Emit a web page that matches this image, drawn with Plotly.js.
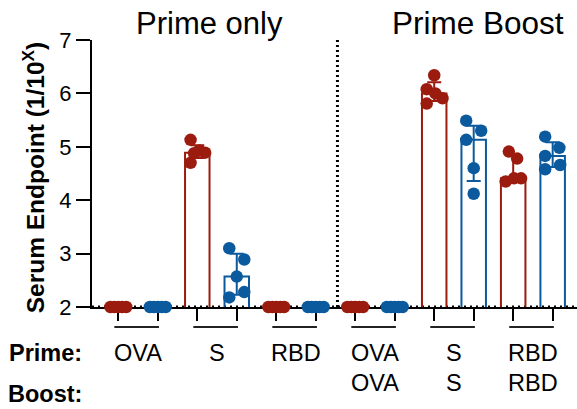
<!DOCTYPE html>
<html>
<head>
<meta charset="utf-8">
<script src="https://cdn.plot.ly/plotly-3.0.1.min.js"></script>
<style>html,body{margin:0;padding:0;background:#fff;}#chart{width:577px;height:409px;}</style>
</head>
<body>
<div id="chart"></div>
<script>
// ---- data ----
const primeLabels = ['OVA', 'S', 'RBD', 'OVA', 'S', 'RBD'];
const boostLabels = ['', '', '', 'OVA', 'S', 'RBD'];
const panelTitles = ['Prime only', 'Prime Boost'];
const yTicks = [2, 3, 4, 5, 6, 7];

// log10 endpoint titers, 5 animals per group (red series)
const redPoints = [
  [2, 2, 2, 2, 2],
  [5.13, 4.70, 4.93, 4.89, 4.88],
  [2, 2, 2, 2, 2],
  [2, 2, 2, 2, 2],
  [6.34, 6.08, 6.00, 5.91, 5.81],
  [4.91, 4.78, 4.35, 4.41, 4.41]
];
// (blue series)
const bluePoints = [
  [2, 2, 2, 2, 2],
  [3.10, 2.89, 2.57, 2.18, 2.28],
  [2, 2, 2, 2, 2],
  [2, 2, 2, 2, 2],
  [5.49, 5.30, 5.13, 4.60, 4.12],
  [5.19, 4.98, 4.83, 4.58, 4.66]
];

// ---- style ----
const RED = '#9B1B0F';
const BLUE = '#0B5A9E';
const FONT = 'Liberation Sans, Arial, Helvetica, sans-serif';
const flat = [-0.2, -0.1, 0, 0.1, 0.2];
const jitterRed = [flat, [-0.17, -0.17, 0.05, 0.2, -0.08], flat, flat,
  [0, -0.19, 0.03, 0.21, -0.19], [-0.11, 0.10, -0.19, 0.02, 0.2]];
const jitterBlue = [flat, [-0.19, 0.19, 0, -0.19, 0.19], flat, flat,
  [-0.19, 0.19, -0.19, 0, 0], [-0.19, 0.17, -0.19, -0.19, 0.19]];

function quantile(arr, p) {
  const s = arr.slice().sort((a, b) => a - b);
  const n = s.length;
  let h = (n + 1) * p;
  if (h <= 1) return s[0];
  if (h >= n) return s[n - 1];
  const lo = Math.floor(h);
  return s[lo - 1] + (h - lo) * (s[lo] - s[lo - 1]);
}

const traces = [];
function addSeries(points, jit, color, offset) {
  const xs = points.map((_, g) => 2 * g + offset);
  const med = points.map(p => quantile(p, 0.5));
  const q1 = points.map(p => quantile(p, 0.25));
  const q3 = points.map(p => quantile(p, 0.75));
  traces.push({
    type: 'bar', x: xs, y: med, width: 0.62,
    marker: {color: 'rgba(0,0,0,0)', line: {color: color, width: 2}},
    error_y: {type: 'data', symmetric: false,
      array: q3.map((v, i) => v - med[i]), arrayminus: med.map((v, i) => v - q1[i]),
      color: color, thickness: 2, width: 7},
    hoverinfo: 'skip', showlegend: false
  });
  const px = [], py = [];
  points.forEach((p, g) => p.forEach((v, k) => { px.push(xs[g] + jit[g][k]); py.push(v); }));
  traces.push({
    type: 'scatter', mode: 'markers', x: px, y: py, cliponaxis: false,
    marker: {color: color, size: 12.5, line: {width: 0}},
    hoverinfo: 'skip', showlegend: false
  });
}
addSeries(redPoints, jitterRed, RED, 0);
addSeries(bluePoints, jitterBlue, BLUE, 1);

const shapes = [
  {type: 'line', xref: 'paper', yref: 'y', x0: 0, x1: 1, y0: 2, y1: 2,
   line: {color: '#000', width: 3, dash: '2px,4px'}, layer: 'below'},
  {type: 'line', xref: 'x', yref: 'paper', x0: 5.55, x1: 5.55, y0: 0, y1: 1.01,
   line: {color: '#000', width: 3, dash: '2px,3px'}, layer: 'below'}
];
primeLabels.forEach((_, g) => {
  shapes.push({type: 'line', xref: 'x', yref: 'paper', x0: 2 * g - 0.1, x1: 2 * g + 1.03,
    y0: -0.075, y1: -0.075, line: {color: '#222', width: 2}});
});

const annotations = [
  {text: panelTitles[0], xref: 'paper', yref: 'paper', x: 0.243, y: 1.063,
   xanchor: 'center', yanchor: 'middle', showarrow: false, font: {family: FONT, size: 31, color: '#000'}},
  {text: panelTitles[1], xref: 'paper', yref: 'paper', x: 0.795, y: 1.063,
   xanchor: 'center', yanchor: 'middle', showarrow: false, font: {family: FONT, size: 31.5, color: '#000'}},
  {text: '<b>Serum Endpoint (1/10<sup>X</sup>)</b>', xref: 'paper', yref: 'paper', x: -0.1216, y: 0.482,
   xanchor: 'center', yanchor: 'middle', textangle: -90, showarrow: false,
   font: {family: FONT, size: 24.5, color: '#000'}},
  {text: '<b>Prime:</b>', xref: 'paper', yref: 'paper', x: -0.096, y: -0.173,
   xanchor: 'center', yanchor: 'middle', showarrow: false, font: {family: FONT, size: 23.5, color: '#000'}},
  {text: '<b>Boost:</b>', xref: 'paper', yref: 'paper', x: -0.096, y: -0.327,
   xanchor: 'center', yanchor: 'middle', showarrow: false, font: {family: FONT, size: 23.5, color: '#000'}}
];
primeLabels.forEach((lab, g) => {
  annotations.push({text: lab, xref: 'x', yref: 'paper', x: 2 * g + 0.5, y: -0.173,
    xanchor: 'center', yanchor: 'middle', showarrow: false, font: {family: FONT, size: 23.5, color: '#000'}});
  if (boostLabels[g]) {
    annotations.push({text: boostLabels[g], xref: 'x', yref: 'paper', x: 2 * g + 0.5, y: -0.283,
      xanchor: 'center', yanchor: 'middle', showarrow: false, font: {family: FONT, size: 23.5, color: '#000'}});
  }
});

const layout = {
  width: 577, height: 409,
  margin: {l: 92, r: 0, t: 40, b: 102, pad: 0},
  paper_bgcolor: '#fff', plot_bgcolor: '#fff',
  font: {family: FONT, color: '#000'},
  showlegend: false,
  barmode: 'overlay',
  xaxis: {
    range: [-0.666, 11.616], tickvals: primeLabels.flatMap((_, g) => [2 * g, 2 * g + 1]),
    showticklabels: false, ticks: 'outside', ticklen: 12, tickwidth: 2, tickcolor: '#000',
    showline: true, linewidth: 2, linecolor: '#000', showgrid: false, zeroline: false,
    layer: 'below traces', fixedrange: true
  },
  yaxis: {
    range: [2, 7], tickvals: yTicks, ticktext: yTicks.map(String),
    ticks: 'outside', ticklen: 14, tickwidth: 2, tickcolor: '#000',
    tickfont: {family: FONT, size: 22, color: '#000'},
    showline: true, linewidth: 2, linecolor: '#000', showgrid: false, zeroline: false,
    layer: 'below traces', fixedrange: true
  },
  shapes: shapes,
  annotations: annotations
};

Plotly.newPlot('chart', traces, layout, {displayModeBar: false, staticPlot: true});
</script>
</body>
</html>
